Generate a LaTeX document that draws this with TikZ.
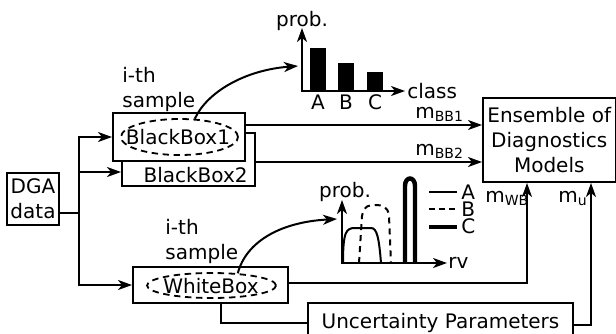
\documentclass[tikz,border=0pt]{standalone}
\usepackage{fontspec}
\setmainfont{DejaVu Sans}
\usetikzlibrary{arrows.meta,shapes.geometric}
\begin{document}
\begin{tikzpicture}[x=0.5pt,y=-0.5pt,
  font=\fontsize{10}{12.5}\selectfont,
  box/.style={draw, line width=1pt, inner sep=0pt, fill=white},
  ell/.style={draw, ellipse, line width=0.9pt, inner sep=0pt, dash pattern=on 3.2pt off 2.3pt},
  tip/.style={-{Stealth[length=7pt,width=5pt,inset=2pt]}},
  arr/.style={line width=1pt, tip},
  axes/.style={line width=1pt, {Stealth[length=7pt,width=5pt,inset=2pt]}-{Stealth[length=7pt,width=5pt,inset=2pt]}},
  ln/.style={line width=1pt},
  lbl/.style={inner sep=0pt, anchor=base},
  lblw/.style={inner sep=0pt, anchor=base west},
  multi/.style={inner sep=0pt, anchor=north west, align=left}]
\useasboundingbox (0,0) rectangle (616,333);
\clip (0,0) rectangle (616,333);

% ---------- boxes ----------
\node[box, minimum width=26pt, minimum height=26pt, align=center] (dga) at (33,199) {DGA\\data};
\node[box, minimum width=66.5pt, minimum height=26.5pt] (bb2) at (188.5,159.5) {};
\node[lbl, anchor=base east] (bb2t) at (248,182) {BlackBox2};
\node[box, minimum width=66pt, minimum height=24pt] (bb1) at (179,137) {};
\node[ell, minimum width=58.5pt, minimum height=18pt] (bb1e) at (179.5,137) {};
\node[lbl] (bb1t) at (178,144) {BlackBox1};
\node[box, minimum width=77.5pt, minimum height=18pt] (wb) at (210.5,285) {};
\node[ell, minimum width=64.5pt, minimum height=12.5pt] (wbe) at (211.5,285.5) {};
\node[lbl] (wbt) at (211,293) {WhiteBox};
\node[box, minimum width=66.25pt, minimum height=42pt, align=center] (ens) at (549.25,140) {Ensemble of\\Diagnostics\\Models};
\node[box, minimum width=132.5pt, minimum height=20pt] (unc) at (440.5,323) {Uncertainty Parameters};

% ---------- sample labels ----------
\node[multi] (smp1) at (122,67) {i-th\\sample};
\node[multi] (smp2) at (165,219) {i-th\\sample};

% ---------- connectors ----------
\coordinate (j) at (79,213);
\draw[ln] (dga.east |- j) -- (j);
\draw[arr] (j) |- (bb1.west);
\draw[arr] (j) |- ([yshift=-6.25pt]bb2.west);
\draw[arr] (j) |- (wb.west);

\draw[arr] ([yshift=6pt]bb1.east) -- ([yshift=6pt]bb1.east -| ens.west);
\draw[arr] ([yshift=-1.25pt]bb2.east) -- ([yshift=-1.25pt]bb2.east -| ens.west);
\draw[arr] ([yshift=1pt]wb.east) -| ([xshift=22.5pt]ens.south west);
\draw[ln] ([xshift=5.25pt]wb.south) |- (unc.west);
\draw[arr] ([yshift=-1pt]unc.east) -| ([xshift=54.5pt]ens.south west);

\node[lblw] (mbb1) at (415,118) {m\textsubscript{BB1}};
\node[lblw] (mbb2) at (415,155) {m\textsubscript{BB2}};
\node[lblw] (mwb) at (485,202) {m\textsubscript{WB}};
\node[lblw] (mu) at (558,202) {m\textsubscript{u}};

% ---------- bar chart ----------
\coordinate (bcin) at (298,66);
\draw[arr] (bb1e.50) .. controls (207,92) and (245,70) .. (bcin);
\draw[axes] (302,28) -- (302,91) -- (405,91);
\fill (310,48) rectangle (326,91);
\fill (338,63) rectangle (354,91);
\fill (367,72) rectangle (383,91);
\node[lbl] (ba) at (318,109) {A};
\node[lbl] (bbl) at (346,109) {B};
\node[lbl] (bc) at (375,109) {C};
\node[lbl] (bprob) at (302,26) {prob.};
\node[lblw] (bclass) at (407,98) {class};

% ---------- continuous chart ----------
\coordinate (ccin) at (337,219);
\draw[arr] (wbe.25) .. controls (246,242) and (280,222) .. (ccin);
\draw[axes] (342,200) -- (342,263) -- (447,263);
\node[lbl] (cprob) at (345,197) {prob.};
\node[lblw] (crv) at (448,268) {rv};
% A
\draw[line width=1pt] (343,263) .. controls (343,232) and (346,228) .. (355,228)
  -- (371,228) .. controls (377,228) and (379,238) .. (381,263);
% B
\draw[line width=1pt, dash pattern=on 3pt off 2.5pt] (359,263) -- (362,216)
  .. controls (364,205) and (370,205) .. (375,205)
  .. controls (382,205) and (388,206) .. (389,216) -- (391,263);
% C
\draw[line width=2.2pt] (405,263) -- (405,186) .. controls (405,176) and (415,176) .. (415,186) -- (415,263);
% legend
\draw[line width=1pt] (429,192) -- (457,192);
\draw[line width=1pt, dash pattern=on 3pt off 2pt] (429,209) -- (457,209);
\draw[line width=2.2pt] (429,227) -- (457,227);
\node[lblw] (la) at (461,199) {A};
\node[lblw] (lb) at (461,216) {B};
\node[lblw] (lc) at (461,233) {C};
\end{tikzpicture}
\end{document}
